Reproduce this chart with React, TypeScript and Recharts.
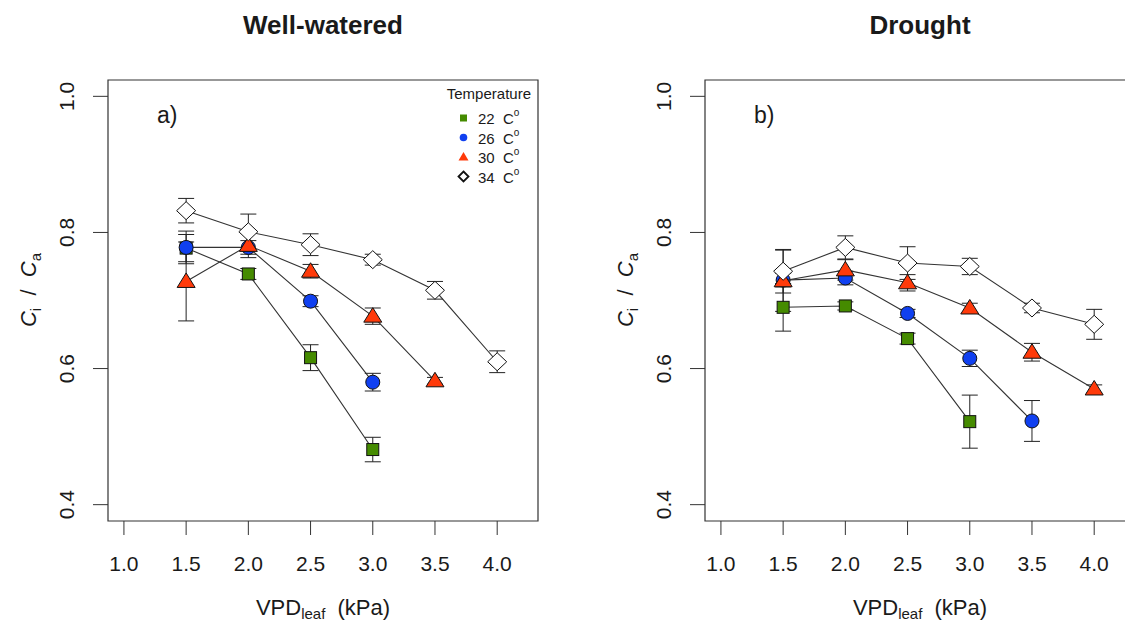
import React from 'react';
import {
  ScatterChart,
  Scatter,
  XAxis,
  YAxis,
  ErrorBar,
  ReferenceArea,
  Customized,
} from 'recharts';

// axis ticks
const vpdTicks = [1.0, 1.5, 2.0, 2.5, 3.0, 3.5, 4.0];
const ratioTicks = [0.4, 0.6, 0.8, 1.0];
const temperatures = ['22', '26', '30', '34'];

// Well-watered (a)
const wwVpd22 = [1.5, 2.0, 2.5, 3.0];
const wwRatio22 = [0.777, 0.739, 0.616, 0.481];
const wwErr22 = [0.02, 0.008, 0.019, 0.018];
const wwVpd26 = [1.5, 2.0, 2.5, 3.0];
const wwRatio26 = [0.778, 0.778, 0.699, 0.58];
const wwErr26 = [0.024, 0.01, 0.008, 0.013];
const wwVpd30 = [1.5, 2.0, 2.5, 3.0, 3.5];
const wwRatio30 = [0.728, 0.781, 0.743, 0.677, 0.582];
const wwErr30 = [0.058, 0.018, 0.01, 0.012, 0.005];
const wwVpd34 = [1.5, 2.0, 2.5, 3.0, 3.5, 4.0];
const wwRatio34 = [0.832, 0.801, 0.782, 0.76, 0.715, 0.61];
const wwErr34 = [0.018, 0.026, 0.016, 0.008, 0.013, 0.016];

// Drought (b)
const drVpd22 = [1.5, 2.0, 2.5, 3.0];
const drRatio22 = [0.69, 0.692, 0.644, 0.522];
const drErr22 = [0.035, 0.006, 0.008, 0.039];
const drVpd26 = [1.5, 2.0, 2.5, 3.0, 3.5];
const drRatio26 = [0.73, 0.733, 0.681, 0.615, 0.523];
const drErr26 = [0.01, 0.01, 0.006, 0.012, 0.03];
const drVpd30 = [1.5, 2.0, 2.5, 3.0, 3.5, 4.0];
const drRatio30 = [0.729, 0.745, 0.726, 0.689, 0.624, 0.57];
const drErr30 = [0.045, 0.015, 0.012, 0.007, 0.013, 0.006];
const drVpd34 = [1.5, 2.0, 2.5, 3.0, 3.5, 4.0];
const drRatio34 = [0.743, 0.778, 0.755, 0.75, 0.689, 0.665];
const drErr34 = [0.032, 0.017, 0.024, 0.012, 0.007, 0.022];

const GREEN = '#458b00';
const BLUE = '#1040f0';
const RED = '#ff3a0a';
const INK = '#1a1a1a';
const FONT = '"Liberation Sans", Arial, Helvetica, sans-serif';

// R-style axis ranges (4% extension)
const X_DOMAIN: [number, number] = [0.872, 4.328];
const Y_DOMAIN: [number, number] = [0.376, 1.024];

const toPoints = (xs: number[], ys: number[], errs: number[]) =>
  xs.map((x, i) => ({ x, y: ys[i], err: errs[i] }));

const SquareDot = (p: any) => (
  <rect x={p.cx - 6} y={p.cy - 6} width={12} height={12} fill={GREEN} stroke="#111" strokeWidth={1} />
);
const CircleDot = (p: any) => <circle cx={p.cx} cy={p.cy} r={7} fill={BLUE} stroke="#111" strokeWidth={1} />;
const TriangleDot = (p: any) => (
  <polygon
    points={`${p.cx},${p.cy - 8.5} ${p.cx - 9},${p.cy + 6} ${p.cx + 9},${p.cy + 6}`}
    fill={RED}
    stroke="#111"
    strokeWidth={1}
  />
);
const DiamondDot = (p: any) => (
  <polygon
    points={`${p.cx},${p.cy - 9} ${p.cx + 9.5},${p.cy} ${p.cx},${p.cy + 9} ${p.cx - 9.5},${p.cy}`}
    fill="#fff"
    stroke="#111"
    strokeWidth={1}
  />
);
const shapes = [SquareDot, CircleDot, TriangleDot, DiamondDot];

const YTick = ({ x, y, payload }: any) => (
  <text
    x={x}
    y={y}
    transform={`rotate(-90, ${x}, ${y})`}
    textAnchor="middle"
    fontSize={21}
    fontFamily={FONT}
    fill={INK}
  >
    {Number(payload.value).toFixed(1)}
  </text>
);

const TempLegend = () => {
  const rows = [118, 137.5, 157, 176.5];
  return (
    <g fontFamily={FONT} fill={INK}>
      <text x={531} y={99} textAnchor="end" fontSize={15}>
        Temperature
      </text>
      <rect x={460} y={rows[0] - 3.5} width={7} height={7} fill={GREEN} />
      <circle cx={463.5} cy={rows[1]} r={3.8} fill={BLUE} />
      <polygon points={`463.5,${rows[2] - 5} 458.5,${rows[2] + 3.5} 468.5,${rows[2] + 3.5}`} fill={RED} />
      <polygon
        points={`463.5,${rows[3] - 5} 468.5,${rows[3]} 463.5,${rows[3] + 5} 458.5,${rows[3]}`}
        fill="none"
        stroke="#111"
        strokeWidth={1.8}
      />
      {temperatures.map((t, i) => (
        <text key={t} x={478} y={rows[i] + 6} fontSize={15} style={{ whiteSpace: 'pre' }}>
          {`${t}  C`}
          <tspan fontSize={10} dy={-8}>
            o
          </tspan>
        </text>
      ))}
    </g>
  );
};

interface PanelProps {
  title: string;
  tag: string;
  series: { x: number; y: number; err: number }[][];
  axisWidth: number;
  width: number;
  left: number;
  legend?: boolean;
}

function Panel({ title, tag, series, axisWidth, width, left, legend }: PanelProps) {
  const plotLeft = axisWidth;
  const plotRight = axisWidth + 430;
  const cx = (plotLeft + plotRight) / 2;
  return (
    <div style={{ position: 'absolute', left, top: 0 }}>
      <ScatterChart width={width} height={624} margin={{ top: 80, right: width - plotRight, bottom: 0, left: 0 }}>
        <XAxis
          type="number"
          dataKey="x"
          domain={X_DOMAIN}
          ticks={vpdTicks}
          allowDataOverflow
          height={103}
          axisLine={false}
          tickSize={14}
          tickMargin={21}
          tickLine={{ stroke: '#333' }}
          tick={{ fill: INK, fontSize: 21, fontFamily: FONT }}
          tickFormatter={(v: number) => v.toFixed(1)}
        />
        <YAxis
          type="number"
          dataKey="y"
          domain={Y_DOMAIN}
          ticks={ratioTicks}
          allowDataOverflow
          width={axisWidth}
          axisLine={false}
          tickSize={15}
          tickMargin={19}
          tickLine={{ stroke: '#333' }}
          tick={<YTick />}
        />
        <ReferenceArea
          x1={X_DOMAIN[0]}
          x2={X_DOMAIN[1]}
          y1={Y_DOMAIN[0]}
          y2={Y_DOMAIN[1]}
          fill="none"
          fillOpacity={0}
          stroke="#333"
          strokeWidth={1.2}
          ifOverflow="visible"
        />
        {series.map((pts, i) => (
          <Scatter
            key={temperatures[i]}
            data={pts}
            line={{ stroke: '#333', strokeWidth: 1.1 }}
            shape={shapes[i]}
            isAnimationActive={false}
          >
            <ErrorBar dataKey="err" direction="y" width={8} stroke="#222" strokeWidth={1} />
          </Scatter>
        ))}
        <Customized
          component={() => (
            <g fontFamily={FONT} fill={INK}>
              <text x={cx} y={34} textAnchor="middle" fontSize={26} fontWeight="bold">
                {title}
              </text>
              <text x={plotLeft + 49} y={123} fontSize={23}>
                {tag}
              </text>
              <text x={cx} y={615} textAnchor="middle" fontSize={22} style={{ whiteSpace: 'pre' }}>
                VPD
                <tspan fontSize={15} dy={4}>
                  leaf
                </tspan>
                <tspan dy={-4}>{'  (kPa)'}</tspan>
              </text>
              <text
                x={plotLeft - 72}
                y={290}
                transform={`rotate(-90, ${plotLeft - 72}, 290)`}
                textAnchor="middle"
                fontSize={22}
                style={{ whiteSpace: 'pre' }}
              >
                <tspan fontStyle="italic">C</tspan>
                <tspan fontSize={15} dy={5}>
                  i
                </tspan>
                <tspan dy={-5}>{'  /  '}</tspan>
                <tspan fontStyle="italic">C</tspan>
                <tspan fontSize={15} dy={5}>
                  a
                </tspan>
              </text>
              {legend ? <TempLegend /> : null}
            </g>
          )}
        />
      </ScatterChart>
    </div>
  );
}

export default function App() {
  const wellWatered = [
    toPoints(wwVpd22, wwRatio22, wwErr22),
    toPoints(wwVpd26, wwRatio26, wwErr26),
    toPoints(wwVpd30, wwRatio30, wwErr30),
    toPoints(wwVpd34, wwRatio34, wwErr34),
  ];
  const drought = [
    toPoints(drVpd22, drRatio22, drErr22),
    toPoints(drVpd26, drRatio26, drErr26),
    toPoints(drVpd30, drRatio30, drErr30),
    toPoints(drVpd34, drRatio34, drErr34),
  ];
  return (
    <div
      style={{
        position: 'absolute',
        left: 0,
        top: 0,
        width: 1125,
        height: 624,
        overflow: 'hidden',
        background: '#fff',
      }}
    >
      <Panel title="Well-watered" tag="a)" series={wellWatered} axisWidth={108} width={562} left={0} legend />
      <Panel title="Drought" tag="b)" series={drought} axisWidth={143} width={600} left={562} />
    </div>
  );
}
